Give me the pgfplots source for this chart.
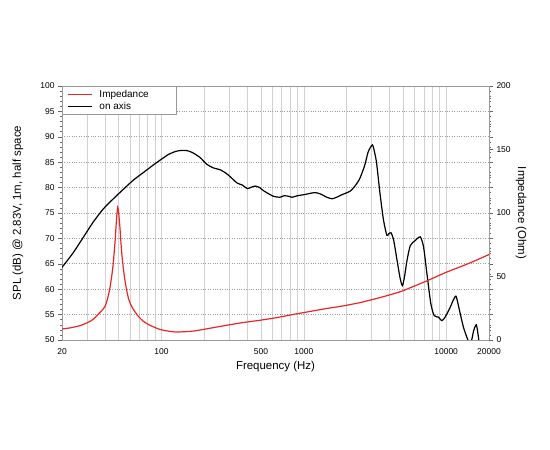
\documentclass[border=0pt]{standalone}
\usepackage{fontspec}
\setmainfont{Liberation Sans}
\usepackage{pgfplots}
\pgfplotsset{compat=1.18}
\definecolor{impred}{RGB}{232,38,38}
\begin{document}
\begin{tikzpicture}
\useasboundingbox (0,0) rectangle (550bp,450bp);
\begin{axis}[
  at={(62bp,110bp)}, anchor=south west,
  scale only axis, width=427bp, height=254bp,
  xmode=log, log basis x=10,
  xmin=20, xmax=20000, ymin=50, ymax=100,
  /pgf/number format/assume math mode=true,
  xtick={20,100,500,1000,10000,20000},
  xticklabels={20,100,500,1000,10000,20000},
  minor xtick={30,40,50,60,70,80,90,100,200,300,400,500,600,700,800,900,1000,2000,3000,4000,5000,6000,7000,8000,9000,10000},
  ytick={50,55,...,100},
  minor y tick num=4,
  xminorgrids=true, ymajorgrids=true,
  minor grid style={gray!35, line width=0.6bp},
  major grid style={gray!75, dotted, line width=0.7bp},
  xtick style={draw=none}, minor x tick style={draw=none},
  tick align=outside,
  major tick length=4bp, minor tick length=2bp,
  tick style={gray!80!black, line width=0.5bp},
  axis line style={gray!80, line width=0.6bp},
  ticklabel style={font=\fontsize{8.5}{10}\selectfont},
  xticklabel style={yshift=-1bp},
  xlabel={Frequency (Hz)},
  ylabel={SPL (dB) @ 2.83V, 1m, half space},
  every axis x label/.style={at={(rel axis cs:0.5,0)}, anchor=center, yshift=-27bp, font=\fontsize{11.5}{13}\selectfont},
  every axis y label/.style={at={(rel axis cs:0,0.5)}, anchor=center, rotate=90, yshift=44bp, font=\fontsize{11.5}{13}\selectfont},
  legend style={at={(0,1)}, anchor=north west, draw=gray!80, line width=0.6bp,
    font=\fontsize{10}{12}\selectfont, inner xsep=5bp, inner ysep=2bp, row sep=-1bp, cells={anchor=west}},
  legend image code/.code={\draw[#1] (0bp,0bp) -- (24bp,0bp); \path (29bp,0bp);},
]
\addlegendimage{impred, line width=1.2bp}
\addlegendentry{\makebox[70bp][l]{Impedance}}
\addplot[black, line width=1.2bp, smooth, tension=0.4] coordinates {
(20,64.3) (24,67.2) (28.2,70.2) (33.1,73.2) (39,75.8) (45.9,77.8) (54.1,79.7) (63.6,81.5)
(74.9,83.0) (88.1,84.5) (100,85.6) (111.7,86.5) (125,87.1) (136,87.3) (150,87.3) (165,86.9)
(187,85.9) (208,84.6) (230,83.9) (259,83.5) (285,82.8) (305,82.1) (340,80.9) (370,80.5)
(400,79.8) (430,80.1) (455,80.3) (490,80.0) (520,79.4) (610,78.3) (680,78.1) (725,78.4)
(780,78.3) (829,78.1) (900,78.4) (1000,78.6) (1175,79.0) (1260,78.9) (1343,78.6) (1450,78.1)
(1577,77.8) (1700,78.1) (1851,78.6) (2116,79.3) (2300,80.4) (2474,81.8) (2680,84.4) (2830,87.0)
(3030,88.4) (3150,86.8) (3250,84.7) (3430,78.8) (3630,73.6) (3830,70.6) (3950,70.9) (4100,71.1)
(4280,69.6) (4560,65.0) (4760,62.0) (4930,60.7) (5100,62.5) (5310,65.7) (5600,68.6) (6070,69.6)
(6580,70.3) (6940,68.3) (7330,63.0) (7810,57.1) (8240,54.8) (8830,54.5) (9320,53.8) (9830,54.5)
(10660,56.4) (11200,57.8) (11740,58.6) (12410,55.8) (13230,52.5) (14120,50.2) (14740,49.2) (15200,50.3)
(15590,51.8) (16300,53.0) (16930,50.2) (17400,47.9) (17800,45)
};
\addlegendentry{on axis}
\end{axis}
\begin{axis}[
  at={(62bp,110bp)}, anchor=south west,
  scale only axis, width=427bp, height=254bp,
  xmode=log, log basis x=10,
  xmin=20, xmax=20000, ymin=0, ymax=200,
  /pgf/number format/assume math mode=true,
  axis x line=none, axis y line*=right,
  ytick={0,50,...,200},
  minor y tick num=4,
  tick align=outside,
  major tick length=4bp, minor tick length=2bp,
  tick style={gray!80!black, line width=0.5bp},
  axis line style={gray!80, line width=0.6bp},
  ticklabel style={font=\fontsize{8.5}{10}\selectfont},
  ylabel={Impedance (Ohm)},
  every axis y label/.style={at={(rel axis cs:1,0.5)}, anchor=center, rotate=-90, yshift=32bp, font=\fontsize{11.5}{13}\selectfont},
]
\addplot[impred, line width=1.2bp, smooth, tension=0.4] coordinates {
(20,8.7) (23,9.6) (26.8,11.3) (29,12.8) (31.5,14.7) (33.5,16.8) (35.2,19.2) (37.5,22.3)
(40,26.3) (41.3,30.5) (42.3,35) (43.5,41.5) (44.6,49.5) (45.7,59) (46.6,70) (47.3,79)
(47.9,89) (48.6,99) (49.2,104.5) (49.8,102) (50.4,96) (51.1,88) (51.8,78) (52.6,68)
(54,56) (55.4,46.8) (57.2,38) (59.2,31.2) (62,26) (65.3,22) (69.5,18) (74.5,14.8)
(80,12.5) (88,10.3) (97,8.4) (110,7.1) (128,6.3) (166,7.0) (218,9.2) (287,11.6)
(378,13.8) (496,15.6) (652,17.7) (857,20.3) (1000,21.6) (1430,24.7) (1880,26.8) (2470,29.4)
(3250,32.7) (4270,36.4) (5000,38.9) (7400,46.8) (10000,53.3) (14500,60.4) (20000,67.3)
};
\end{axis}
\end{tikzpicture}
\end{document}
